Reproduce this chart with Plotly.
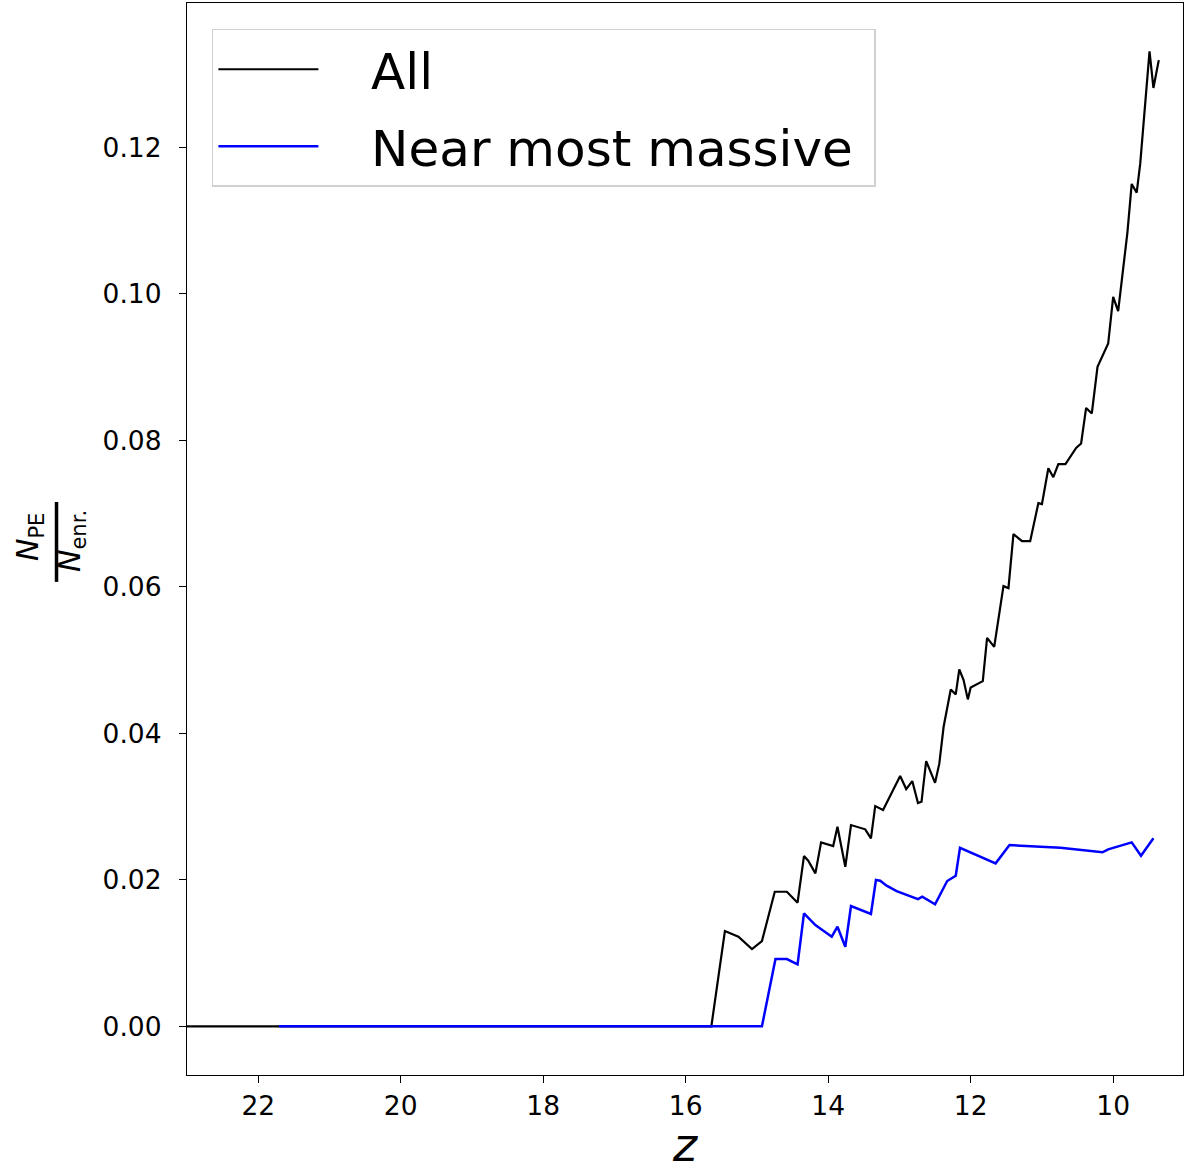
import plotly.graph_objects as go

# ---- data ----
z_all = [23.0, 15.64, 15.45, 15.26, 15.07, 14.93, 14.75, 14.58, 14.43, 14.34, 14.28, 14.18,
         14.10, 13.93, 13.87, 13.81, 13.76, 13.68, 13.48, 13.40, 13.34, 13.23, 12.99, 12.905,
         12.82, 12.74, 12.69, 12.625, 12.50, 12.44, 12.38, 12.28, 12.21, 12.16, 12.10, 12.04,
         12.00, 11.83, 11.77, 11.67, 11.54, 11.47, 11.40, 11.28, 11.165, 11.05, 11.00, 10.91,
         10.84, 10.77, 10.67, 10.52, 10.45, 10.38, 10.30, 10.22, 10.07, 10.00, 9.93, 9.80,
         9.74, 9.67, 9.62, 9.49, 9.435, 9.36]
f_all = [0.0, 0.0, 0.0130, 0.01223, 0.01055, 0.01164, 0.01837, 0.01837, 0.01687, 0.02324,
         0.0226, 0.02088, 0.02511, 0.02461, 0.02724, 0.02451, 0.02178, 0.02747, 0.02689,
         0.02566, 0.03006, 0.02952, 0.03416, 0.03239, 0.03348, 0.03047, 0.03065, 0.03621,
         0.03324, 0.03589, 0.04089, 0.04599, 0.04531, 0.04872, 0.04726, 0.04463, 0.04626,
         0.04712, 0.05303, 0.0518, 0.06009, 0.05982, 0.06719, 0.06623, 0.06623, 0.07142,
         0.07128, 0.07619, 0.07496, 0.07674, 0.07674, 0.07896, 0.07956, 0.08442, 0.08366,
         0.09002, 0.09321, 0.09957, 0.09762, 0.1084, 0.1150, 0.1138, 0.1178, 0.1331, 0.1281,
         0.1319]

z_near = [21.71, 14.93, 14.74, 14.58, 14.43, 14.34, 14.18, 13.95, 13.87, 13.76, 13.68, 13.40,
          13.33, 13.27, 13.18, 13.04, 12.74, 12.68, 12.50, 12.33, 12.21, 12.15, 11.65, 11.455,
          10.74, 10.15, 10.07, 9.74, 9.61, 9.435]
f_near = [0.0, 0.0, 0.00918, 0.00918, 0.00846, 0.01542, 0.01382, 0.01223, 0.01359, 0.01086,
          0.01642, 0.01533, 0.01997, 0.01987, 0.01919, 0.01846, 0.01737, 0.01769, 0.01665,
          0.01983, 0.02055, 0.02437, 0.02224, 0.02474, 0.02437, 0.02375, 0.02416, 0.02511,
          0.02328, 0.02566]

x_ticks = [22, 20, 18, 16, 14, 12, 10]
y_ticks = [0.00, 0.02, 0.04, 0.06, 0.08, 0.10, 0.12]
series_names = ["All", "Near most massive"]

FONT = "DejaVu Sans"
PAD = "&nbsp;&nbsp;&nbsp;"

fig = go.Figure()
fig.add_trace(go.Scatter(x=z_all, y=f_all, mode="lines", name=PAD + series_names[0] + "&nbsp;",
                         legendgroup="a", line=dict(color="black", width=2.2)))
fig.add_trace(go.Scatter(x=z_near, y=f_near, mode="lines",
                         name=PAD + series_names[1] + "&nbsp;",
                         legendgroup="b", line=dict(color="blue", width=2.5)))

axis_common = dict(showline=True, linecolor="black", linewidth=1.3, mirror=True,
                   showgrid=False, zeroline=False, ticks="outside", ticklen=7,
                   tickwidth=1.3, tickcolor="black",
                   tickfont=dict(family=FONT, size=26.5, color="black"))

fig.update_xaxes(range=[23.0, 9.02], tickvals=x_ticks, ticktext=[str(v) for v in x_ticks],
                 ticklabelstandoff=0, **axis_common)
fig.update_yaxes(range=[-0.00665, 0.1397], tickvals=y_ticks,
                 ticktext=[f"{v:.2f}" for v in y_ticks], ticklabelstandoff=12, **axis_common)

# x-axis title
fig.add_annotation(text="<i>z</i>", xref="paper", yref="paper", x=0.5, y=0,
                   yshift=-70, showarrow=False, xanchor="center", yanchor="middle",
                   font=dict(family=FONT, size=46, color="black"))
# y-axis title as a stacked fraction
fig.add_annotation(text="<i>N</i><sub>PE</sub>", xref="paper", yref="paper", x=0, y=0.5,
                   xshift=-158, yshift=2, textangle=-90, showarrow=False,
                   xanchor="center", yanchor="middle",
                   font=dict(family=FONT, size=30, color="black"))
fig.add_annotation(text="<i>N</i><sub>enr.</sub>", xref="paper", yref="paper", x=0, y=0.5,
                   xshift=-116, yshift=-2, textangle=-90, showarrow=False,
                   xanchor="center", yanchor="middle",
                   font=dict(family=FONT, size=30, color="black"))
fig.add_shape(type="line", xref="paper", yref="paper", x0=-0.131, x1=-0.131,
              y0=0.46, y1=0.5345, line=dict(color="black", width=3.5))

fig.update_layout(
    width=1184, height=1168,
    margin=dict(l=187, r=1, t=3, b=93),
    paper_bgcolor="white", plot_bgcolor="white",
    font=dict(family=FONT, color="black"),
    showlegend=True,
    legend=dict(x=0.025, y=0.976, xanchor="left", yanchor="top",
                bgcolor="rgba(255,255,255,0.8)", bordercolor="#d0d0d0", borderwidth=1.5,
                font=dict(family=FONT, size=50, color="black"),
                itemwidth=100, tracegroupgap=9),
)

fig.write_html("out.html")
